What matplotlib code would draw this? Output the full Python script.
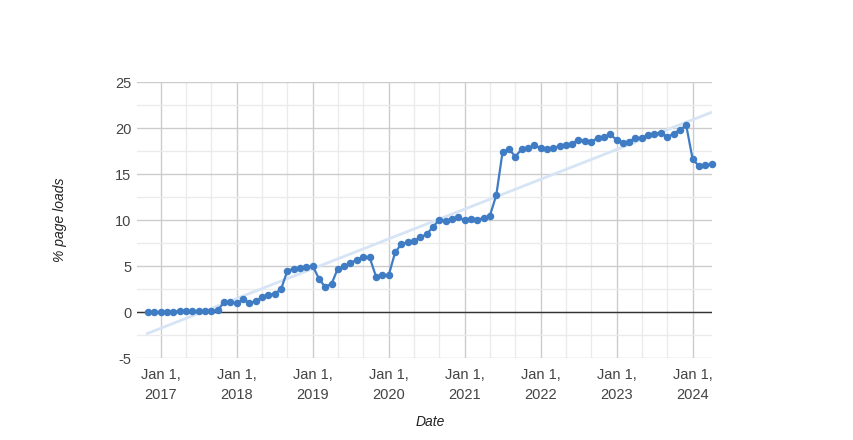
import matplotlib
matplotlib.use("Agg")
import matplotlib.pyplot as plt
import matplotlib.dates as mdates
import numpy as np
import pandas as pd

dates = pd.date_range("2016-11-01", "2024-04-01", freq="MS")
values = [
    0.0, 0.0,
    0.0, 0.05, 0.05, 0.1, 0.1, 0.1, 0.1, 0.1, 0.15, 0.2, 1.05, 1.05,
    0.95, 1.4, 1.0, 1.15, 1.6, 1.85, 2.0, 2.45, 4.5, 4.7, 4.8, 4.85,
    5.0, 3.55, 2.75, 3.05, 4.7, 4.95, 5.3, 5.7, 6.0, 5.95, 3.85, 4.0,
    4.0, 6.5, 7.35, 7.6, 7.7, 8.1, 8.45, 9.25, 10.05, 9.9, 10.15, 10.3,
    9.95, 10.1, 10.05, 10.2, 10.45, 12.7, 17.35, 17.7, 16.9, 17.7, 17.8, 18.1,
    17.8, 17.7, 17.8, 18.05, 18.2, 18.3, 18.75, 18.6, 18.45, 18.95, 19.0, 19.3,
    18.7, 18.35, 18.5, 18.95, 18.9, 19.25, 19.4, 19.5, 19.0, 19.4, 19.8, 20.3,
    16.6, 15.85, 15.95, 16.1,
]
y_ticks = [-5, 0, 5, 10, 15, 20, 25]
x_tick_years = list(range(2017, 2025))
x_title = "Date"
y_title = "% page loads"

plt.rcParams["font.family"] = ["Liberation Sans", "DejaVu Sans"]
plt.rcParams["axes.unicode_minus"] = False

fig = plt.figure(figsize=(8.54, 4.40), dpi=100)
ax = fig.add_axes([137 / 854, 1 - 358 / 440, (712 - 137) / 854, (358 - 82) / 440])

xnum = mdates.date2num(dates)
xmin = mdates.date2num(pd.Timestamp("2016-09-08"))
xmax = mdates.date2num(pd.Timestamp("2024-04-03"))

# trendline (least squares over data)
coef = np.polyfit(xnum, values, 1)
tx = np.array([xnum[0] - 10, xmax])
ax.plot(tx, np.polyval(coef, tx), color="#d6e4f5", lw=2.0, zorder=2, solid_capstyle="butt")

ax.axhline(0, color="#333333", lw=1.0, zorder=3)
ax.plot(xnum, values, color="#3f7cc4", lw=1.6, marker="o", markersize=5.4,
        markeredgewidth=0, zorder=4, clip_on=False)

ax.set_yticks(y_ticks)
ax.set_yticks(np.arange(-2.5, 25, 5), minor=True)
ax.set_ylim(-5, 25)

major_x = [mdates.date2num(pd.Timestamp(f"{y}-01-01")) for y in x_tick_years]
minor_x = []
for y in range(2016, 2025):
    for m in (5, 9):
        v = mdates.date2num(pd.Timestamp(f"{y}-{m:02d}-01"))
        if xmin < v < xmax:
            minor_x.append(v)
ax.set_xticks(major_x)
ax.set_xticklabels([f"Jan 1,\n{y}" for y in x_tick_years])
ax.set_xticks(minor_x, minor=True)
ax.set_xlim(xmin, xmax)

ax.grid(which="major", color="#cccccc", lw=1.0, zorder=0)
ax.grid(which="minor", color="#ebebeb", lw=1.0, zorder=0)
ax.set_axisbelow(True)
for s in ax.spines.values():
    s.set_visible(False)
ax.tick_params(which="both", length=0)
ax.tick_params(axis="y", pad=4, labelsize=10.5, labelcolor="#444444")
ax.tick_params(axis="x", pad=7, labelsize=10.5, labelcolor="#444444")
for lab in ax.get_xticklabels():
    lab.set_linespacing(1.55)

fig.text(430 / 854, 1 - 422 / 440, x_title, ha="center", va="center",
         fontsize=10, style="italic", color="#222222")
fig.text(60 / 854, 1 - 220 / 440, y_title, ha="center", va="center",
         rotation=90, fontsize=10, style="italic", color="#222222")

fig.savefig("out.png", dpi=100)
